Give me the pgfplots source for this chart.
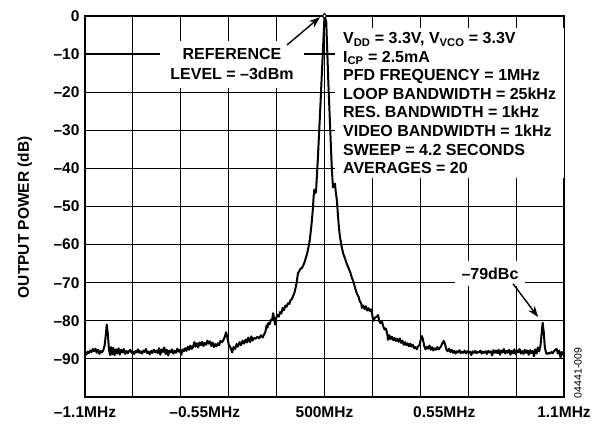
\documentclass[border=0pt]{standalone}
\usepackage{pgfplots}
\pgfplotsset{compat=1.18}
\usepackage{fontspec}
\setmainfont{Liberation Sans}
\usetikzlibrary{arrows.meta}

\begin{document}
\begin{tikzpicture}
\path[use as bounding box] (-85pt,-26pt) rectangle (520pt,397pt);
\begin{axis}[
  scale only axis, width=479pt, height=381pt,
  at={(0,0)}, anchor=south west,
  xmin=-1.1, xmax=1.1, ymin=-100, ymax=0,
  xtick={-1.1,-0.55,0,0.55,1.1},
  xticklabels={{–1.1MHz},{–0.55MHz},{500MHz},{0.55MHz},{1.1MHz}},
  minor xtick={-0.88,-0.66,-0.44,-0.22,0,0.22,0.44,0.66,0.88},
  ytick={-100,-90,-80,-70,-60,-50,-40,-30,-20,-10,0},
  yticklabels={,{–90},{–80},{–70},{–60},{–50},{–40},{–30},{–20},{–10},{0}},
  tick style={draw=none},
  xmajorgrids=false, xminorgrids=true, ymajorgrids=true,
  grid style={black, line width=1.2pt},
  minor grid style={black, line width=1.2pt},
  major grid style={black, line width=1.2pt},
  axis line style={line width=1.5pt},
  tick label style={font=\fontsize{15.5}{18}\selectfont\bfseries},
  yticklabel style={xshift=-2pt},
  xticklabel style={yshift=-6pt},
  ylabel={OUTPUT POWER (dB)},
  ylabel style={font=\fontsize{15.5}{18}\selectfont\bfseries,
    at={(axis description cs:-0.1253,0.472)}, anchor=center},
  clip=false,
]
\addplot[black, line width=2pt, line join=round] coordinates {
(-1.100,-88.6)(-1.094,-88.9)(-1.088,-88.1)(-1.082,-88.5)(-1.076,-87.8)(-1.070,-88.2)
(-1.064,-87.4)(-1.058,-88.0)(-1.052,-87.3)(-1.046,-88.4)(-1.040,-87.6)(-1.034,-88.7)
(-1.028,-87.9)(-1.022,-88.3)(-1.016,-87.7)(-1.010,-86.5)(-1.005,-84.0)(-1.000,-81.0)
(-0.995,-83.5)(-0.990,-87.5)(-0.985,-89.0)(-0.980,-86.9)(-0.975,-88.8)(-0.970,-87.1)
(-0.964,-89.0)(-0.958,-87.5)(-0.952,-88.6)(-0.946,-87.2)(-0.940,-88.9)(-0.934,-87.6)
(-0.928,-88.3)(-0.922,-87.4)(-0.916,-88.7)(-0.910,-87.9)(-0.904,-88.5)(-0.898,-88.0)
(-0.892,-87.6)(-0.886,-88.4)(-0.880,-88.1)(-0.874,-88.7)(-0.868,-87.9)(-0.862,-88.3)
(-0.856,-87.5)(-0.850,-88.4)(-0.844,-88.0)(-0.838,-88.6)(-0.832,-87.8)(-0.826,-88.2)
(-0.820,-87.4)(-0.814,-88.5)(-0.808,-88.1)(-0.802,-88.8)(-0.796,-87.9)(-0.790,-88.4)
(-0.784,-87.6)(-0.778,-88.3)(-0.772,-87.8)(-0.766,-88.5)(-0.760,-87.2)(-0.754,-88.9)
(-0.748,-87.5)(-0.742,-88.2)(-0.736,-87.0)(-0.730,-88.7)(-0.724,-87.6)(-0.718,-89.1)
(-0.712,-87.8)(-0.706,-88.3)(-0.700,-87.5)(-0.694,-88.6)(-0.688,-87.9)(-0.682,-88.4)
(-0.676,-87.3)(-0.670,-88.1)(-0.664,-87.6)(-0.658,-88.9)(-0.652,-87.5)(-0.646,-88.0)
(-0.640,-87.2)(-0.634,-87.9)(-0.628,-86.8)(-0.622,-87.6)(-0.616,-86.5)(-0.610,-87.4)
(-0.604,-86.9)(-0.598,-85.6)(-0.592,-86.8)(-0.586,-85.9)(-0.580,-87.0)(-0.574,-85.7)
(-0.568,-86.4)(-0.562,-85.5)(-0.556,-86.6)(-0.550,-85.8)(-0.544,-86.3)(-0.538,-85.2)
(-0.532,-86.0)(-0.526,-85.4)(-0.520,-86.6)(-0.514,-85.7)(-0.508,-86.9)(-0.502,-86.1)
(-0.496,-86.7)(-0.490,-85.9)(-0.484,-86.4)(-0.478,-85.3)(-0.470,-85.6)(-0.460,-84.5)
(-0.452,-83.0)(-0.446,-84.4)(-0.440,-86.2)(-0.432,-87.0)(-0.424,-88.3)(-0.418,-86.9)
(-0.410,-87.4)(-0.404,-86.1)(-0.398,-86.8)(-0.390,-85.6)(-0.384,-86.4)(-0.376,-85.2)
(-0.370,-86.0)(-0.362,-84.9)(-0.356,-85.7)(-0.350,-84.4)(-0.342,-85.6)(-0.336,-84.1)
(-0.330,-85.2)(-0.324,-84.5)(-0.316,-84.7)(-0.308,-84.2)(-0.300,-84.6)(-0.292,-83.8)
(-0.284,-84.4)(-0.278,-83.6)(-0.272,-83.0)(-0.266,-81.2)(-0.262,-81.8)(-0.258,-80.6)
(-0.252,-80.9)(-0.246,-79.8)(-0.240,-79.6)(-0.236,-78.0)(-0.232,-79.4)(-0.227,-81.0)
(-0.222,-79.2)(-0.216,-78.5)(-0.210,-78.9)(-0.204,-77.7)(-0.198,-78.1)(-0.192,-76.6)
(-0.186,-77.2)(-0.180,-76.0)(-0.174,-76.3)(-0.168,-75.4)(-0.162,-75.6)(-0.156,-74.6)
(-0.150,-74.3)(-0.144,-73.5)(-0.138,-72.6)(-0.132,-71.2)(-0.126,-69.2)(-0.122,-67.5)
(-0.116,-67.0)(-0.110,-66.3)(-0.104,-66.2)(-0.098,-65.5)(-0.092,-64.7)(-0.086,-63.5)
(-0.080,-62.4)(-0.074,-60.8)(-0.068,-59.0)(-0.063,-56.5)(-0.058,-53.8)(-0.054,-51.0)
(-0.050,-47.5)(-0.047,-45.6)(-0.043,-46.5)(-0.039,-46.2)(-0.035,-42.0)(-0.031,-38.0)
(-0.020,-25.0)(-0.010,-12.5)(0.000,0.0)(0.008,-1.5)(0.018,-18.0)(0.030,-35.0)
(0.034,-40.5)(0.039,-45.0)(0.044,-44.2)(0.048,-44.0)(0.052,-46.3)(0.057,-48.4)
(0.062,-52.5)(0.066,-55.3)(0.071,-58.0)(0.078,-60.3)(0.086,-62.4)(0.094,-63.6)
(0.102,-65.0)(0.110,-66.1)(0.118,-67.2)(0.126,-68.8)(0.132,-69.6)(0.138,-70.8)
(0.144,-72.1)(0.150,-73.0)(0.156,-73.6)(0.162,-74.9)(0.168,-75.3)(0.172,-76.6)
(0.178,-76.0)(0.184,-76.9)(0.190,-76.2)(0.196,-77.3)(0.202,-76.7)(0.208,-77.4)
(0.214,-77.0)(0.218,-78.0)(0.224,-80.0)(0.232,-79.2)(0.240,-78.9)(0.246,-78.5)
(0.252,-80.2)(0.258,-80.6)(0.264,-80.2)(0.270,-81.5)(0.276,-82.3)(0.282,-82.0)
(0.288,-83.4)(0.292,-85.0)(0.298,-83.8)(0.304,-84.8)(0.310,-84.2)(0.316,-85.1)
(0.322,-84.5)(0.328,-85.3)(0.334,-84.7)(0.340,-85.5)(0.346,-84.6)(0.352,-85.8)
(0.358,-85.2)(0.364,-86.3)(0.370,-85.6)(0.376,-86.4)(0.382,-85.9)(0.388,-86.7)
(0.394,-86.0)(0.400,-86.8)(0.406,-86.3)(0.412,-87.2)(0.418,-86.9)(0.424,-87.5)
(0.430,-86.7)(0.436,-86.4)(0.442,-85.0)(0.447,-84.0)(0.452,-84.8)(0.458,-86.6)
(0.464,-87.5)(0.470,-86.8)(0.476,-87.3)(0.482,-86.5)(0.488,-87.6)(0.494,-86.9)
(0.500,-87.8)(0.506,-87.2)(0.512,-87.6)(0.518,-86.9)(0.524,-87.5)(0.530,-87.1)
(0.536,-86.6)(0.542,-85.8)(0.548,-85.3)(0.554,-86.2)(0.560,-87.6)(0.566,-88.0)
(0.572,-87.3)(0.578,-88.2)(0.584,-87.6)(0.590,-88.4)(0.596,-87.9)(0.602,-88.6)
(0.608,-88.0)(0.614,-88.3)(0.620,-87.7)(0.626,-88.5)(0.632,-88.1)(0.638,-88.4)
(0.644,-87.8)(0.650,-88.6)(0.656,-88.0)(0.662,-88.3)(0.668,-88.1)(0.674,-89.0)
(0.680,-88.0)(0.686,-88.4)(0.692,-87.9)(0.698,-88.5)(0.704,-88.2)(0.710,-88.3)
(0.716,-87.8)(0.722,-88.6)(0.728,-88.1)(0.734,-88.4)(0.740,-88.0)(0.746,-88.7)
(0.752,-87.9)(0.758,-88.3)(0.764,-88.0)(0.770,-89.1)(0.776,-87.7)(0.782,-88.4)
(0.788,-87.8)(0.794,-88.5)(0.800,-87.6)(0.806,-88.9)(0.812,-87.8)(0.818,-88.3)
(0.824,-87.4)(0.830,-88.6)(0.836,-87.9)(0.842,-88.4)(0.848,-87.6)(0.854,-88.9)
(0.860,-87.9)(0.866,-88.5)(0.872,-87.5)(0.878,-88.8)(0.884,-87.8)(0.890,-88.3)
(0.896,-87.4)(0.902,-88.6)(0.908,-87.9)(0.914,-88.7)(0.920,-87.6)(0.926,-88.4)
(0.932,-87.8)(0.938,-88.9)(0.944,-87.7)(0.950,-88.5)(0.956,-87.9)(0.962,-89.3)
(0.968,-87.5)(0.974,-88.6)(0.980,-87.0)(0.986,-88.0)(0.992,-86.5)(0.997,-83.5)
(1.002,-80.5)(1.007,-83.0)(1.012,-87.0)(1.018,-88.5)(1.024,-88.7)(1.030,-88.4)
(1.036,-88.6)(1.042,-88.2)(1.048,-88.5)(1.054,-88.0)(1.060,-87.6)(1.066,-87.4)
(1.072,-88.6)(1.078,-87.8)(1.084,-89.6)(1.090,-88.2)(1.096,-88.9)(1.100,-88.5)
};
\addplot[black, line width=1pt, mark=diamond*, mark size=2.6pt,
  mark options={fill=white}, only marks] coordinates {(0,0)};

\node[fill=white, align=center, inner xsep=10pt, inner ysep=8pt,
  font=\fontsize{16}{19.5}\selectfont\bfseries]
  at (axis cs:-0.425,-12.63) {REFERENCE\\LEVEL = –3dBm};
\draw[line width=1.4pt, -{Stealth[length=11pt,width=8pt]}]
  (axis cs:-0.172,-7.6) -- (axis cs:-0.0207,-0.3);

\node[fill=white, align=left, anchor=north west, inner xsep=8pt, inner ysep=4pt,
  font=\fontsize{16}{18.6}\selectfont\bfseries]
  at (axis cs:0.048,-3.16) {V\textsubscript{DD} = 3.3V, V\textsubscript{VCO} = 3.3V\\
  I\textsubscript{CP} = 2.5mA\\
  PFD FREQUENCY = 1MHz\\
  LOOP BANDWIDTH = 25kHz\\
  RES. BANDWIDTH = 1kHz\\
  VIDEO BANDWIDTH = 1kHz\\
  SWEEP = 4.2 SECONDS\\
  AVERAGES = 20};

\node[fill=white, inner sep=7pt, font=\fontsize{16}{19}\selectfont\bfseries]
  at (axis cs:0.760,-67.6) {–79dBc};
\draw[line width=1.4pt, -{Stealth[length=11pt,width=8pt]}]
  (axis cs:0.866,-70.3) -- (axis cs:0.981,-79.0);

\node[rotate=90, font=\fontsize{10.5}{12}\selectfont]
  at (axis cs:1.164,-93.7) {04441-009};
\end{axis}
\end{tikzpicture}
\end{document}
